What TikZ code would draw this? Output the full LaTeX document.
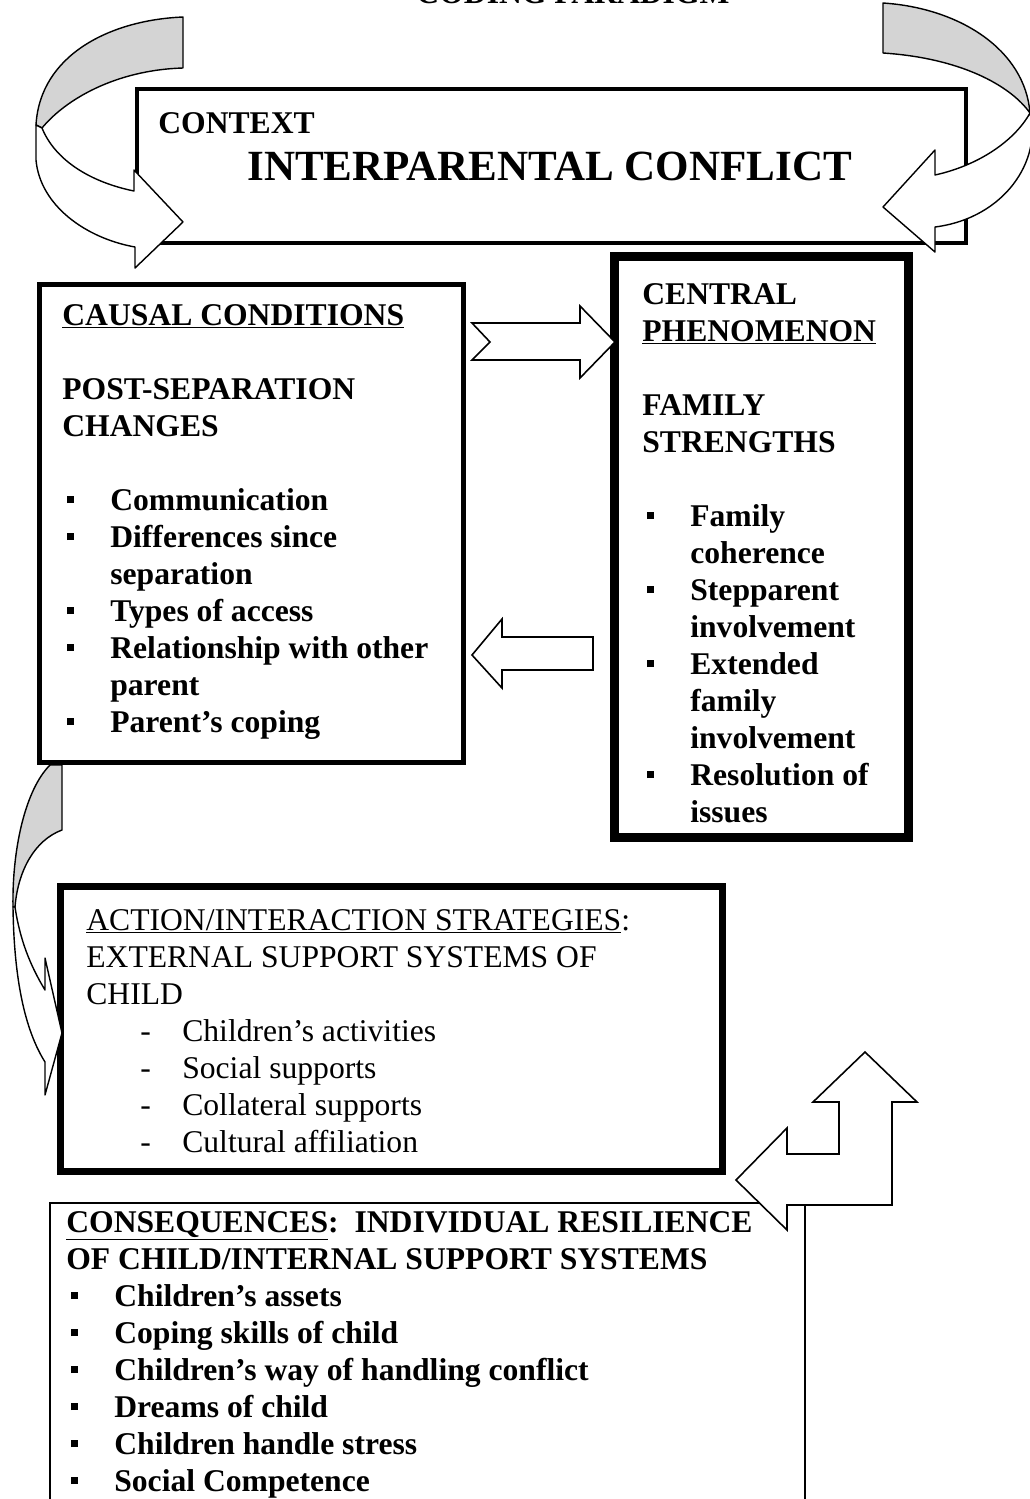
\documentclass[tikz,border=0pt]{standalone}
\usepackage{fontspec}
\setmainfont{Liberation Serif}
\usetikzlibrary{positioning}
% Aufzaehlungszeichen
\newcommand{\sqbul}{\rule[0.22em]{0.22em}{0.22em}}
\newcommand{\itm}[1]{\hspace*{0.1cm}\makebox[0.86cm][l]{\sqbul}#1}
\newcommand{\cnt}[1]{\hspace*{0.96cm}#1}
\newcommand{\dsh}[1]{\hspace*{1.08cm}\makebox[0.84cm][l]{-}#1}
\tikzset{
  txt/.style={anchor=base west, inner sep=0pt, font=\fontsize{18}{21}\selectfont\bfseries},
  plain/.style={anchor=base west, inner sep=0pt, font=\fontsize{18}{21}\selectfont},
  framebox/.style={draw=black, anchor=north west, inner sep=0pt, outer sep=0pt},
  bandback/.style={draw=black, line width=0.8pt, fill=black!17, line join=round},
  bandfront/.style={draw=black, line width=0.8pt, fill=white, line join=round},
  blockarrow/.style={draw=black, line width=0.9pt, fill=white, line join=miter}
}
\begin{document}
\begin{tikzpicture}[x=0.02cm,y=-0.02cm]
\clip (0,0) rectangle (1030,1499);
%Ueberschrift, oben abgeschnitten
\node[txt, anchor=base] (title) at (573,3) {CODING PARADIGM};
%Kasten Kontext
\node[framebox, line width=2.3pt, minimum width=16.58cm, minimum height=3.08cm] (context) at (137,89) {};
\node[txt] (context-a) at (158,133) {CONTEXT};
\node[txt, font=\fontsize{24.5}{28}\selectfont\bfseries] (context-b) at (247,180) {INTERPARENTAL CONFLICT};
%Kasten Ursachen
\node[framebox, line width=2.6pt, minimum width=8.48cm, minimum height=9.56cm] (causal) at (39.5,284.5) {};
\foreach \txt [count=\i] in {\underline{CAUSAL CONDITIONS}, {}, POST-SEPARATION, CHANGES, {},
  \itm{Communication}, \itm{Differences since}, \cnt{separation}, \itm{Types of access},
  \itm{Relationship with other}, \cnt{parent}, \itm{Parent’s coping}}
  \node[txt] (causal-\i) at (62,{325+37*(\i-1)}) {\txt};
%Kasten Phaenomen
\node[framebox, line width=5pt, minimum width=5.88cm, minimum height=11.62cm] (central) at (614.5,256.5) {};
\foreach \txt [count=\i] in {CENTRAL, \underline{PHENOMENON}, {}, FAMILY, STRENGTHS, {},
  \itm{Family}, \cnt{coherence}, \itm{Stepparent}, \cnt{involvement}, \itm{Extended},
  \cnt{family}, \cnt{involvement}, \itm{Resolution of}, \cnt{issues}}
  \node[txt] (central-\i) at (642,{304+37*(\i-1)}) {\txt};
%Kasten Strategien
\node[framebox, line width=4pt, minimum width=13.24cm, minimum height=5.70cm] (action) at (60.5,886.5) {};
\foreach \txt [count=\i] in {\underline{ACTION/INTERACTION STRATEGIES}:, EXTERNAL SUPPORT SYSTEMS OF, CHILD,
  \dsh{Children’s activities}, \dsh{Social supports}, \dsh{Collateral supports}, \dsh{Cultural affiliation}}
  \node[plain] (action-\i) at (86,{930+37*(\i-1)}) {\txt};
%Kasten Konsequenzen, unten offen
\draw[line width=0.6pt] (50,1530) -- (50,1203) -- (805,1203) -- (805,1530);
\foreach \txt [count=\i] in {\underline{CONSEQUENCES}:\ \ INDIVIDUAL RESILIENCE, OF CHILD/INTERNAL SUPPORT SYSTEMS,
  \itm{Children’s assets}, \itm{Coping skills of child}, \itm{Children’s way of handling conflict},
  \itm{Dreams of child}, \itm{Children handle stress}, \itm{Social Competence}}
  \node[txt] (cons-\i) at (66,{1232+37*(\i-1)}) {\txt};
%gebogener Pfeil oben links
\draw[bandback] (183,17) .. controls (110,20) and (40,55) .. (36,125) -- (42,128)
  .. controls (65,100) and (115,70) .. (183,68) -- cycle;
\draw[bandfront] (36,125) -- (36,160) .. controls (40,205) and (85,238) .. (135,247) -- (135,268)
  -- (183,222) -- (134,170) -- (134,191) .. controls (90,182) and (55,160) .. (42,128) -- cycle;
%gebogener Pfeil oben rechts
\draw[bandback] (883,3) .. controls (960,8) and (1025,50) .. (1030,113)
  .. controls (1010,85) and (960,58) .. (883,53) -- cycle;
\draw[bandfront] (1030,113) .. controls (1042,160) and (1005,218) .. (935,227) -- (935,252)
  -- (883,207) -- (935,150) -- (935,175) .. controls (980,165) and (1015,140) .. (1030,113) -- cycle;
%gebogener Pfeil links
\draw[bandback] (50,765) -- (62,765) -- (62,830) .. controls (35,840) and (18,870) .. (15,907)
  -- (13,907) .. controls (12,850) and (25,790) .. (50,765) -- cycle;
\draw[bandfront] (13,907) .. controls (14,980) and (25,1030) .. (45,1062) -- (45,1095)
  -- (62,1033) -- (45,958) -- (45,990) .. controls (30,965) and (20,940) .. (15,907) -- cycle;
%Blockpfeile zwischen den Kaesten
\draw[blockarrow] (472,323) -- (580,323) -- (580,306) -- (615,342) -- (580,378) -- (580,360)
  -- (472,360) -- (490,342) -- cycle;
\draw[blockarrow] (593,637) -- (502,637) -- (502,619) -- (472,655) -- (502,688) -- (502,670)
  -- (593,670) -- cycle;
%Winkelpfeil unten rechts
\draw[blockarrow] (736,1180) -- (787,1128) -- (787,1154) -- (839,1154) -- (839,1102) -- (813,1102)
  -- (865,1052) -- (917,1102) -- (892,1102) -- (892,1205) -- (787,1205) -- (787,1230) -- cycle;
\end{tikzpicture}
\end{document}
